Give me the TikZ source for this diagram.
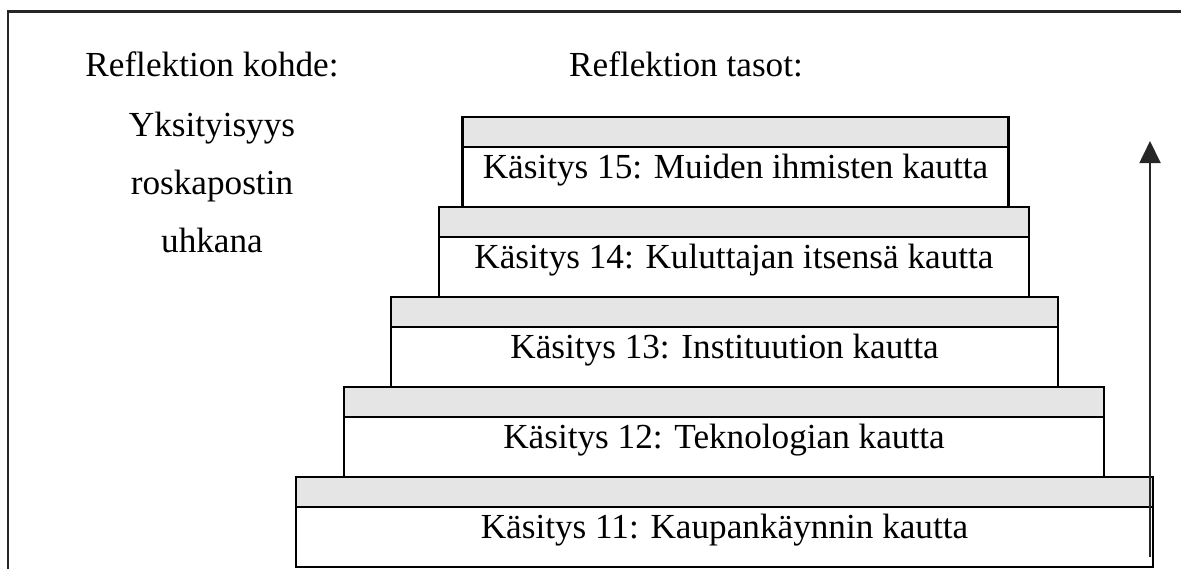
\documentclass[tikz,border=0pt]{standalone}
\usepackage{fontspec}
\setmainfont{Liberation Serif}
\usetikzlibrary{arrows.meta,calc,positioning}

\begin{document}
\begin{tikzpicture}[
    x=0.5pt, y=-0.5pt,
    every node/.style={font=\fontsize{17.6}{21}\selectfont,inner sep=0pt,outer sep=0pt},
    strip/.style={draw=black,line width=1.2pt,fill=black!10,minimum height=15pt,minimum width=#1},
    tier/.style={draw=black,line width=1.2pt,fill=white,minimum height=30pt,minimum width=#1},
    txt/.style={anchor=base},
    frame/.style={draw=black!85,line width=1.1pt},
    arrow/.style={-{Triangle[length=11pt,width=10.5pt]},line width=0.9pt,draw=black!85}
]
\useasboundingbox (0,0) rectangle (1181,569);
\draw[frame] (1181,11.5) -- (8,11.5) -- (8,569);

% headings
\node[txt] (kohde) at (212,76) {Reflektion kohde:};
\node[txt] (tasot) at (686,76) {Reflektion tasot:};
\node[txt] (obj1) at (212,136) {Yksityisyys};
\node[txt] (obj2) at ($(obj1.base)+(0,58)$) {roskapostin};
\node[txt] (obj3) at ($(obj2.base)+(0,58)$) {uhkana};

% levels, top to bottom
\node[strip=273pt] (s15) at (735.5,132) {};
\node[tier=273pt,below=0pt of s15] (w15) {};
\node[strip=295pt] (s14) at (734,222) {};
\node[tier=295pt,below=0pt of s14] (w14) {};
\node[strip=333.5pt] (s13) at (724.5,312) {};
\node[tier=333.5pt,below=0pt of s13] (w13) {};
\node[strip=380pt] (s12) at (724,402) {};
\node[tier=380pt,below=0pt of s12] (w12) {};
\node[strip=428.5pt] (s11) at (724.5,492) {};
\node[tier=428.5pt,below=0pt of s11] (w11) {};

\node[txt] (t15) at ($(w15.north)+(0,31)$) {Käsitys 15: Muiden ihmisten kautta};
\node[txt] (t14) at ($(w14.north)+(0,31)$) {Käsitys 14: Kuluttajan itsensä kautta};
\node[txt] (t13) at ($(w13.north)+(0,31)$) {Käsitys 13: Instituution kautta};
\node[txt] (t12) at ($(w12.north)+(0,31)$) {Käsitys 12: Teknologian kautta};
\node[txt] (t11) at ($(w11.north)+(0,31)$) {Käsitys 11: Kaupankäynnin kautta};

% rising arrow
\coordinate (up0) at (1150,557);
\coordinate (up1) at (1150,141);
\draw[arrow] (up0) -- (up1);
\end{tikzpicture}
\end{document}
